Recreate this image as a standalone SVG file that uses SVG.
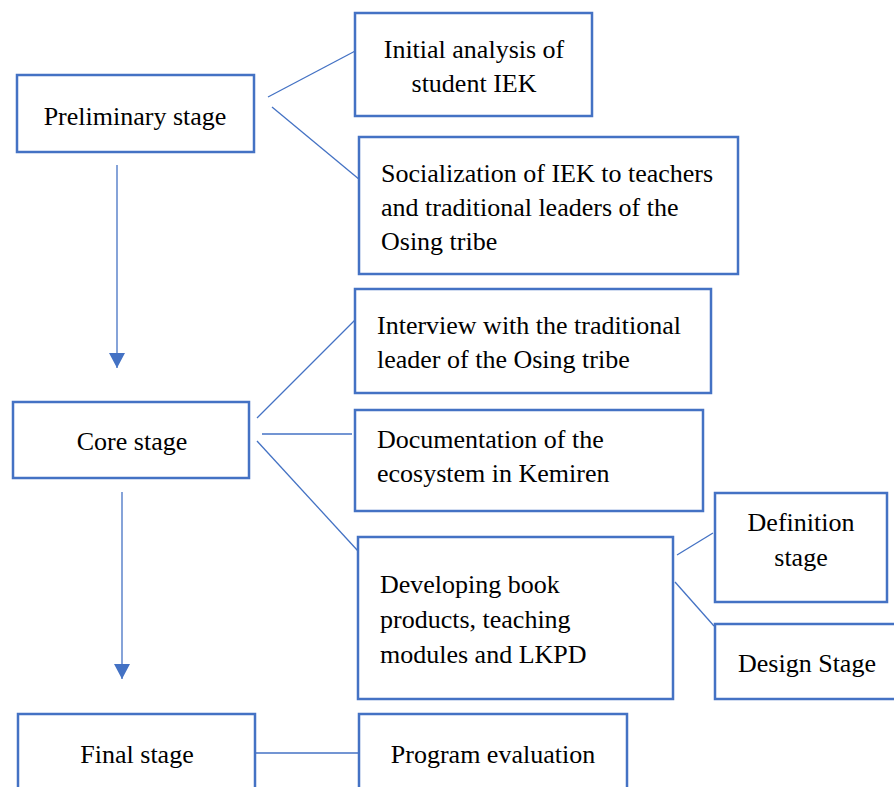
<svg xmlns="http://www.w3.org/2000/svg" width="894" height="787" viewBox="0 0 894 787">
<style>
.box{fill:#fff;stroke:#4472C4;stroke-width:2.5}
.lnk{stroke:#4472C4;stroke-width:1.3;fill:none}
text{font-family:"Liberation Serif","Times New Roman",serif;font-size:26px;fill:#000}
.c{text-anchor:middle}
</style>
<defs>
<marker id="ah" markerUnits="userSpaceOnUse" markerWidth="15" markerHeight="16" viewBox="0 0 15 16" refX="15" refY="8" orient="auto">
<path d="M0,0 L15,8 L0,16 Z" fill="#4472C4"/>
</marker>
</defs>
<rect width="894" height="787" fill="#fff"/>
<g id="connectors">
<line class="lnk" x1="268" y1="97" x2="359" y2="49"/>
<line class="lnk" x1="272" y1="107" x2="360" y2="180"/>
<line class="lnk" x1="117" y1="165" x2="117" y2="368" marker-end="url(#ah)"/>
<line class="lnk" x1="257" y1="418" x2="355" y2="320"/>
<line class="lnk" x1="262" y1="434" x2="352" y2="434"/>
<line class="lnk" x1="257" y1="441" x2="358" y2="551"/>
<line class="lnk" x1="122" y1="492" x2="122" y2="679" marker-end="url(#ah)"/>
<line class="lnk" x1="677" y1="555" x2="713" y2="533"/>
<line class="lnk" x1="675" y1="582" x2="714" y2="626"/>
<line class="lnk" x1="255" y1="753" x2="365" y2="753"/>
</g>
<g id="preliminary">
<rect class="box" x="17" y="75" width="237" height="77"/>
<text class="c" x="135" y="125">Preliminary stage</text>
</g>
<g id="initial">
<rect class="box" x="355" y="13" width="237" height="103"/>
<text class="c" x="474" y="58">Initial analysis of</text>
<text class="c" x="474" y="92">student IEK</text>
</g>
<g id="socialization">
<rect class="box" x="359" y="137" width="379" height="137"/>
<text x="381" y="182">Socialization of IEK to teachers</text>
<text x="381" y="216">and traditional leaders of the</text>
<text x="381" y="250">Osing tribe</text>
</g>
<g id="core">
<rect class="box" x="13" y="402" width="236" height="76"/>
<text class="c" x="132" y="450">Core stage</text>
</g>
<g id="interview">
<rect class="box" x="355" y="289" width="356" height="104"/>
<text x="377" y="334">Interview with the traditional</text>
<text x="377" y="368">leader of the Osing tribe</text>
</g>
<g id="documentation">
<rect class="box" x="355" y="410" width="348" height="101"/>
<text x="377" y="448">Documentation of the</text>
<text x="377" y="482">ecosystem in Kemiren</text>
</g>
<g id="developing">
<rect class="box" x="358" y="537" width="315" height="162"/>
<text x="380" y="593">Developing book</text>
<text x="380" y="628">products, teaching</text>
<text x="380" y="663">modules and LKPD</text>
</g>
<g id="definition">
<rect class="box" x="715" y="493" width="172" height="109"/>
<text class="c" x="801" y="531">Definition</text>
<text class="c" x="801" y="566">stage</text>
</g>
<g id="design">
<rect class="box" x="715" y="624" width="183" height="75"/>
<text class="c" x="807" y="672">Design Stage</text>
</g>
<g id="final">
<rect class="box" x="18" y="714" width="237" height="90"/>
<text class="c" x="137" y="763">Final stage</text>
</g>
<g id="program">
<rect class="box" x="359" y="714" width="268" height="90"/>
<text class="c" x="493" y="763">Program evaluation</text>
</g>
</svg>
